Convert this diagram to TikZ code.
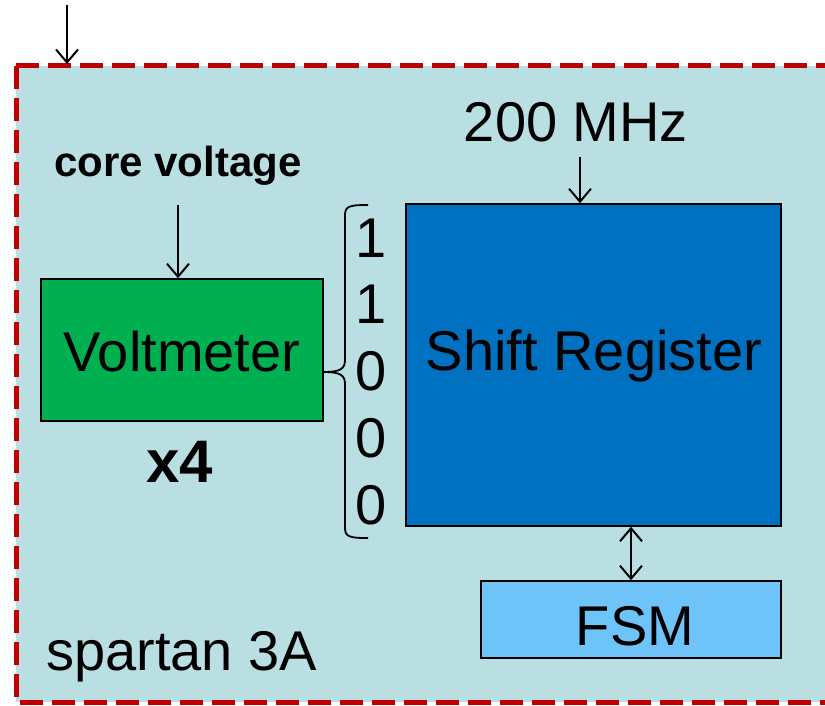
\documentclass[tikz,border=0pt]{standalone}
\usepackage{fontspec}
\setmainfont{Liberation Sans}
\usetikzlibrary{arrows.meta}
\definecolor{bgblue}{HTML}{B9DFE3}
\definecolor{dashred}{HTML}{C00000}
\definecolor{voltgreen}{HTML}{00B050}
\definecolor{srblue}{HTML}{0070C0}
\definecolor{fsmblue}{HTML}{6EC4F8}
\tikzset{
  blockbox/.style={draw=black, line width=1.5pt, inner sep=0pt},
  lbl/.style={inner sep=0pt, anchor=base, font=\fontsize{56}{62}\selectfont},
  boldlbl/.style={inner sep=0pt, anchor=base, font=\bfseries\fontsize{42}{48}\selectfont},
  arr/.style={line width=2pt, -{Straight Barb[length=13pt,width=22pt,line width=2pt]}},
  dblarr/.style={line width=2pt, {Straight Barb[length=13pt,width=22pt,line width=2pt]}-{Straight Barb[length=13pt,width=22pt,line width=2pt]}},
}
\begin{document}
\begin{tikzpicture}[x=1pt,y=-1pt]
\useasboundingbox (0,0) rectangle (825,706);
% chip outline
\fill[bgblue] (16,66) rectangle (827,702);
\draw[dashred, line width=5pt, dash pattern=on 23pt off 9pt] (16,66) -- (16,702) -- (827,702);
\draw[dashred, line width=5pt, dash pattern=on 23pt off 9pt] (16,66) -- (827,66) -- (827,702);
\coordinate (chiptop) at (67,64);
\coordinate (topin) at (67,5);
\draw[arr] (topin) -- (chiptop);
% blocks
\node[blockbox, fill=voltgreen, minimum width=282pt, minimum height=142pt] (volt) at (182,350) {};
\node[lbl] (voltlbl) at (182,371) {Voltmeter};
\node[blockbox, fill=srblue, minimum width=375pt, minimum height=322pt] (sr) at (593.5,365) {};
\node[lbl] (srlbl) at (594,370) {Shift Register};
\node[blockbox, fill=fsmblue, minimum width=300pt, minimum height=77pt] (fsm) at (631,619.5) {};
\node[lbl] (fsmlbl) at (635,645) {FSM};
% labels
\node[boldlbl] (core) at (178,176) {core voltage};
\node[lbl] (clk) at (576,142) {200 MHz};
\node[inner sep=0pt, anchor=base, font=\bfseries\fontsize{60}{66}\selectfont] (x4) at (180,482) {x4};
\node[lbl, anchor=base west] (chip) at (46,670) {spartan 3A};
% bits
\node[lbl] (b1) at (371,257) {1};
\node[lbl] (b2) at (371,323) {1};
\node[lbl] (b3) at (371,390) {0};
\node[lbl] (b4) at (371,457) {0};
\node[lbl] (b5) at (371,524) {0};
% arrows
\coordinate (corein) at (178,205);
\draw[arr] (corein) -- (volt.north -| corein);
\coordinate (clkin) at (580,157);
\draw[arr] (clkin) -- (sr.north -| clkin);
\draw[dblarr] (sr.south -| fsm.north) -- (fsm.north);
% brace
\draw[line width=1.8pt, line join=round]
  (368,205) .. controls (350,205) and (345,206) .. (345,215)
  -- (345,360) .. controls (345,369) and (340,372) .. (volt.east |- 0,372);
\draw[line width=1.8pt, line join=round]
  (368,538) .. controls (350,538) and (345,537) .. (345,528)
  -- (345,384) .. controls (345,375) and (340,372) .. (volt.east |- 0,372);
\end{tikzpicture}
\end{document}
